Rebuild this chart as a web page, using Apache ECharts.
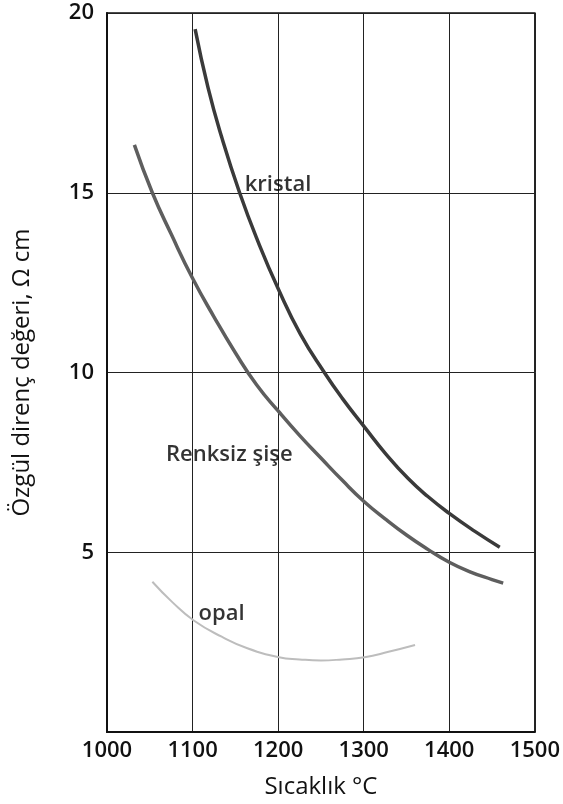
<!DOCTYPE html>
<html>
<head>
<meta charset="utf-8">
<script src="https://cdn.jsdelivr.net/npm/echarts@6/dist/echarts.min.js"></script>
<style>
html,body{margin:0;padding:0;background:#fff;}
#chart{width:563px;height:804px;}
</style>
</head>
<body>
<div id="chart"></div>
<script>
// Data (x: temperature °C, y: resistivity Ω cm)
var kristal = [[1103,19.55],[1118,17.93],[1134,16.55],[1155,15.0],[1176,13.67],[1201,12.28],[1226,11.07],[1254,10.0],[1275,9.28],[1301,8.48],[1325,7.76],[1352,7.05],[1375,6.55],[1400,6.08],[1430,5.58],[1459,5.14]];
var renksiz = [[1032,16.33],[1053,15.0],[1075,13.85],[1100,12.62],[1125,11.55],[1150,10.55],[1175,9.65],[1200,8.93],[1225,8.25],[1250,7.62],[1275,7.0],[1300,6.42],[1325,5.93],[1350,5.48],[1375,5.08],[1400,4.72],[1425,4.45],[1450,4.24],[1463,4.14]];
var opal = [[1053,4.18],[1076,3.62],[1101,3.11],[1134,2.65],[1164,2.33],[1201,2.08],[1225,2.02],[1250,1.99],[1275,2.02],[1301,2.08],[1329,2.23],[1360,2.42]];
var curveLabels = [
  {name:'kristal', value:[1161,15.22]},
  {name:'Renksiz şişe', value:[1069,7.72]},
  {name:'opal', value:[1107,3.28]}
];
var xTicks = [1000,1100,1200,1300,1400,1500];
var yTicks = [5,10,15,20];
var xName = 'Sıcaklık °C';
var yName = 'Özgül direnç değeri, Ω cm';

var FONT = '"Open Sans", "Noto Sans", sans-serif';
var chart = echarts.init(document.getElementById('chart'), null, {renderer:'canvas'});
chart.setOption({
  animation:false,
  backgroundColor:'#fff',
  grid:{left:107,right:21,top:13,bottom:72,show:true,borderColor:'#111',borderWidth:1.5,backgroundColor:'transparent'},
  xAxis:{
    type:'value',min:xTicks[0],max:xTicks[xTicks.length-1],interval:100,
    name:xName,nameLocation:'middle',nameGap:43,
    nameTextStyle:{fontFamily:FONT,fontSize:24,color:'#111'},
    axisLine:{show:true,lineStyle:{color:'#111',width:2}},
    axisTick:{show:false},
    axisLabel:{fontFamily:FONT,fontSize:22,fontWeight:600,color:'#111',margin:8,
      formatter:function(v){return xTicks.indexOf(v)>=0?String(v):'';}},
    splitLine:{show:true,lineStyle:{color:'#222',width:1}}
  },
  yAxis:{
    type:'value',min:0,max:20,interval:5,
    name:yName,nameLocation:'middle',nameGap:73,nameRotate:90,
    nameTextStyle:{fontFamily:FONT,fontSize:24,color:'#111'},
    axisLine:{show:true,lineStyle:{color:'#111',width:2}},
    axisTick:{show:false},
    axisLabel:{fontFamily:FONT,fontSize:22,fontWeight:600,color:'#111',margin:13,
      formatter:function(v){return yTicks.indexOf(v)>=0?String(v):'';}},
    splitLine:{show:true,lineStyle:{color:'#222',width:1}}
  },
  series:[
    {type:'line',name:'kristal',data:kristal,smooth:0.5,showSymbol:false,
      lineStyle:{color:'#3a3a3a',width:3.5}},
    {type:'line',name:'Renksiz şişe',data:renksiz,smooth:0.5,showSymbol:false,
      lineStyle:{color:'#5e5e5e',width:3.5}},
    {type:'line',name:'opal',data:opal,smooth:0.5,showSymbol:false,
      lineStyle:{color:'#bdbdbd',width:2}},
    {type:'scatter',data:curveLabels,symbolSize:0,silent:true,
      label:{show:true,position:[0,0],align:'left',verticalAlign:'middle',
        formatter:function(p){return p.name;},
        fontFamily:FONT,fontSize:22,fontWeight:600,color:'#000',
        textBorderWidth:0,textBorderColor:'transparent'}}
  ]
});
</script>
</body>
</html>
